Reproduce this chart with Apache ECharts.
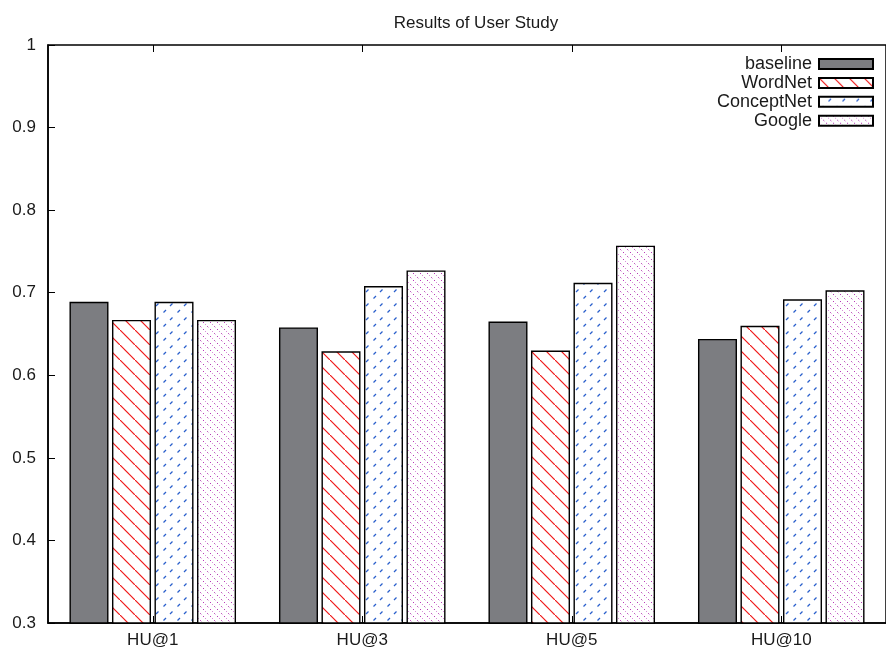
<!DOCTYPE html>
<html>
<head>
<meta charset="utf-8">
<script src="https://cdn.jsdelivr.net/npm/echarts@6/dist/echarts.min.js"></script>
<style>
  html, body { margin: 0; padding: 0; background: #fff; }
  #chart { width: 886px; height: 655px; }
</style>
</head>
<body>
<div id="chart"></div>
<script>
// Categories and per-method scores
const categories = ['HU@1', 'HU@3', 'HU@5', 'HU@10'];
const baseline   = [0.689, 0.658, 0.665, 0.644];
const wordnet    = [0.667, 0.629, 0.630, 0.660];
const conceptnet = [0.689, 0.708, 0.712, 0.692];
const google     = [0.667, 0.727, 0.757, 0.703];
const seriesNames = ['baseline', 'WordNet', 'ConceptNet', 'Google'];

// Hatch fills, built as small repeating canvas tiles
function tile(size, draw) {
  const c = document.createElement('canvas');
  c.width = size; c.height = size;
  const ctx = c.getContext('2d');
  ctx.fillStyle = '#fff';
  ctx.fillRect(0, 0, size, size);
  draw(ctx, size);
  return { image: c, repeat: 'repeat' };
}

// red "\" lines
const redHatch = tile(15, (ctx, s) => {
  ctx.strokeStyle = '#f01818';
  ctx.lineWidth = 1.2;
  ctx.beginPath();
  ctx.moveTo(-2, -2); ctx.lineTo(s + 2, s + 2);
  ctx.stroke();
});

// blue dashed "/" lines
const blueDash = tile(14, (ctx, s) => {
  ctx.strokeStyle = '#2a5fcc';
  ctx.lineWidth = 1.3;
  ctx.beginPath();
  ctx.moveTo(2, 12); ctx.lineTo(4.5, 9.5);
  ctx.moveTo(9.5, 4.5); ctx.lineTo(12, 2);
  ctx.stroke();
});

// magenta dotted "\" lines
const pinkDots = tile(7, (ctx, s) => {
  ctx.fillStyle = '#b83cb8';
  ctx.fillRect(0, 0, 1, 1);
  ctx.fillStyle = '#dc90dc';
  ctx.fillRect(2, 2, 1, 1);
  ctx.fillStyle = '#c060c0';
  ctx.fillRect(4, 4, 1, 1);
  ctx.fillStyle = '#ecc0ec';
  ctx.fillRect(5, 5, 1, 1);
});

const fills = ['#7c7d81', redHatch, blueDash, pinkDots];
const values = [baseline, wordnet, conceptnet, google];

const chart = echarts.init(document.getElementById('chart'), null, { renderer: 'canvas' });

const font = 'Liberation Sans, Arial, sans-serif';
const ink = '#1a1a1a';

chart.setOption({
  animation: false,
  backgroundColor: '#fff',
  title: {
    text: 'Results of User Study',
    left: 471,
    textAlign: 'center',
    top: 10,
    textStyle: { fontFamily: font, fontSize: 17, fontWeight: 'normal', color: ink }
  },
  legend: {
    orient: 'vertical',
    right: 7,
    top: 50,
    align: 'right',
    icon: 'rect',
    itemWidth: 54,
    itemHeight: 10,
    itemGap: 0.9,
    textStyle: { fontFamily: font, fontSize: 18, color: ink, padding: [0, 2, 0, 0] },
    data: seriesNames
  },
  grid: {
    left: 48, top: 45, right: -10, bottom: 32,
    show: true, borderColor: '#000', borderWidth: 1.5
  },
  xAxis: [{
    type: 'category',
    data: categories,
    axisLine: { show: true, lineStyle: { color: '#000', width: 1.5 } },
    axisTick: { show: true, inside: true, alignWithLabel: true, length: 7, lineStyle: { color: '#000' } },
    axisLabel: { fontFamily: font, fontSize: 17, color: ink, margin: 9 }
  }, {
    type: 'category',
    data: categories,
    position: 'top',
    axisLine: { show: false },
    axisTick: { show: true, inside: true, alignWithLabel: true, length: 7, lineStyle: { color: '#000' } },
    axisLabel: { show: false }
  }],
  yAxis: {
    type: 'value',
    min: 0.3,
    max: 1,
    interval: 0.1,
    axisLine: { show: true, lineStyle: { color: '#000', width: 1.5 } },
    axisTick: { show: true, inside: true, length: 7, lineStyle: { color: '#000' } },
    splitLine: { show: false },
    axisLabel: {
      fontFamily: font, fontSize: 17, color: ink, margin: 12,
      formatter: v => String(+v.toFixed(1))
    }
  },
  series: seriesNames.map((name, i) => ({
    name,
    type: 'bar',
    data: values[i],
    barWidth: 39,
    barGap: '9%',
    itemStyle: { color: fills[i], borderColor: '#000', borderWidth: 1.4 }
  }))
});
</script>
</body>
</html>
